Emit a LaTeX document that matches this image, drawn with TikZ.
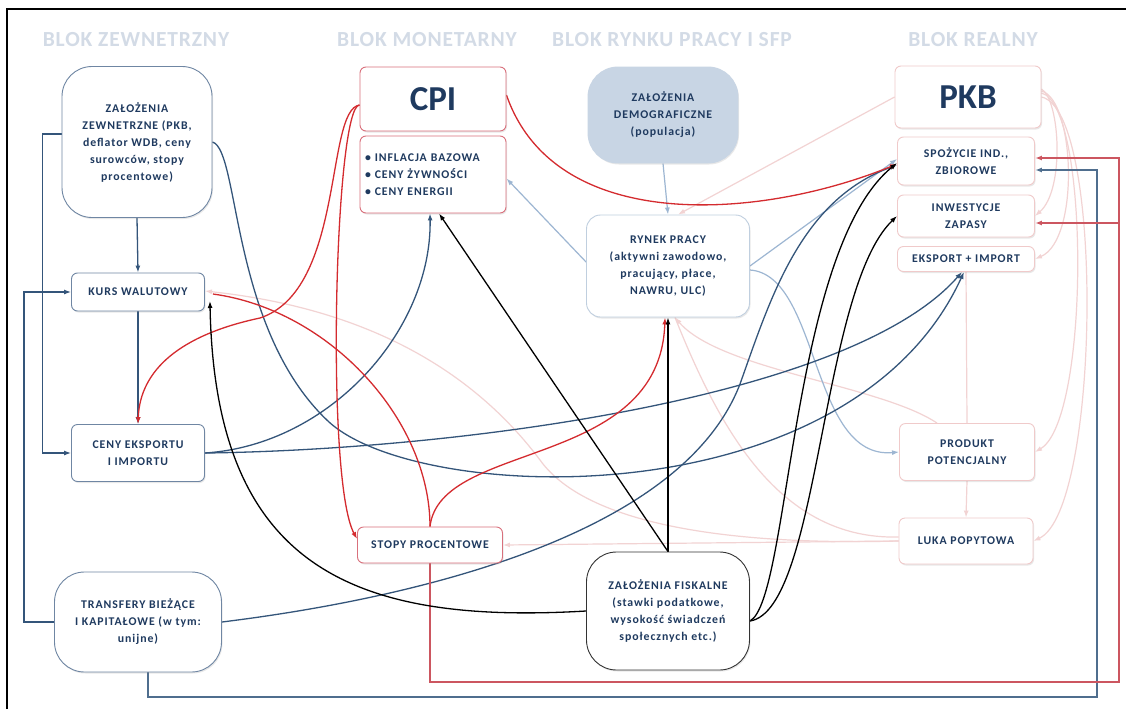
\documentclass[tikz,border=0pt]{standalone}
\usepackage{fontspec}
\setmainfont{Carlito}
\newfontfamily\lblf[LetterSpace=8]{Carlito}
\newfontfamily\hdrf[LetterSpace=4]{Carlito}
\usetikzlibrary{arrows.meta,shadows}
\definecolor{navyC}{HTML}{34557A}
\definecolor{redC}{HTML}{D42B2F}
\definecolor{lblueC}{HTML}{9DB6D2}
\definecolor{pinkC}{HTML}{F2D3D3}
\definecolor{txtC}{HTML}{1F3A5F}
\definecolor{hdrC}{HTML}{D3DBE6}
\definecolor{demoC}{HTML}{C8D5E4}
\definecolor{boxB}{HTML}{6F86A3}
\definecolor{boxR}{HTML}{D9707C}
\definecolor{boxP}{HTML}{F0CACA}
\definecolor{boxL}{HTML}{C0CFDF}
\definecolor{routeR}{HTML}{CC5660}
\definecolor{routeB}{HTML}{4F6E8E}
\pgfdeclarelayer{bg}
\pgfsetlayers{bg,main}
\tikzset{
  box/.style={draw, line width=0.9pt, fill=white, align=center, text=txtC,
    font=\lblf\bfseries\fontsize{11.8}{17}\selectfont, inner sep=2pt,
    drop shadow={opacity=0.18, shadow xshift=1pt, shadow yshift=-1.5pt}},
  bluebox/.style={box, draw=boxB, rounded corners=6pt},
  bigblue/.style={box, draw=boxB, rounded corners=30pt},
  redbox/.style={box, draw=boxR, rounded corners=6pt},
  pinkbox/.style={box, draw=boxP, rounded corners=6pt},
  bigtxt/.style={font=\bfseries\fontsize{35}{38}\selectfont},
  hdr/.style={font=\hdrf\bfseries\fontsize{21.5}{25}\selectfont, text=hdrC},
  arr/.style={-{Latex[length=7pt,width=5pt]}},
  navyl/.style={draw=navyC, line width=1.3pt},
  redl/.style={draw=redC, line width=1.3pt},
  blkl/.style={draw=black, line width=1.3pt},
  lbluel/.style={draw=lblueC, line width=1.2pt},
  pinkl/.style={draw=pinkC, line width=1.2pt},
  routered/.style={draw=routeR, line width=1.4pt},
  routeblue/.style={draw=routeB, line width=1.4pt}
}
\begin{document}
\begin{tikzpicture}[x=1pt,y=-1pt]
\useasboundingbox (0,0) rectangle (1126,709);
% headers
\node[hdr] (h1) at (136,40) {BLOK ZEWNETRZNY};
\node[hdr] (h2) at (427,40) {BLOK MONETARNY};
\node[hdr] (h3) at (672,40) {BLOK RYNKU PRACY I SFP};
\node[hdr] (h4) at (973,40) {BLOK REALNY};
% external block
\node[bigblue, minimum width=150pt, minimum height=151pt] (zz) at (137,142)
  {ZAŁOŻENIA\\ZEWNETRZNE (PKB,\\deflator WDB, ceny\\surowców, stopy\\procentowe)};
\node[bluebox, minimum width=133pt, minimum height=38pt] (kurs) at (138,292) {KURS WALUTOWY};
\node[bluebox, minimum width=133pt, minimum height=57pt] (ceny) at (138,453) {CENY EKSPORTU\\I IMPORTU};
\node[bigblue, minimum width=167pt, minimum height=100pt] (tr) at (138,622)
  {TRANSFERY BIEŻĄCE\\I KAPITAŁOWE (w tym:\\unijne)};
% monetary block
\node[redbox, bigtxt, minimum width=146pt, minimum height=64pt] (cpi) at (433,99) {CPI};
\node[redbox, minimum width=146pt, minimum height=77pt, text width=136pt, align=left] (bul) at (433,174.5)
  {• INFLACJA BAZOWA\\• CENY ŻYWNOŚCI\\• CENY ENERGII};
\node[redbox, minimum width=145pt, minimum height=36pt] (stopy) at (430,545) {STOPY PROCENTOWE};
% labour block
\node[box, draw=demoC, fill=demoC, rounded corners=30pt, minimum width=150pt, minimum height=96pt] (demo) at (663,115)
  {ZAŁOŻENIA\\DEMOGRAFICZNE\\(populacja)};
\node[box, draw=boxL, rounded corners=14pt, minimum width=163pt, minimum height=102pt] (ryn) at (668,266)
  {RYNEK PRACY\\(aktywni zawodowo,\\pracujący, płace,\\NAWRU, ULC)};
\node[box, draw=black!80, rounded corners=30pt, minimum width=163pt, minimum height=118pt] (fisk) at (668,611)
  {ZAŁOŻENIA FISKALNE\\(stawki podatkowe,\\wysokość świadczeń\\społecznych etc.)};
% real block
\node[pinkbox, bigtxt, minimum width=146pt, minimum height=62pt] (pkb) at (968,97) {PKB};
\node[pinkbox, minimum width=137pt, minimum height=48pt] (spoz) at (966,161) {SPOŻYCIE IND.,\\ZBIOROWE};
\node[pinkbox, minimum width=137pt, minimum height=42pt] (inw) at (966,216) {INWESTYCJE\\ZAPASY};
\node[pinkbox, minimum width=137pt, minimum height=25pt] (eksp) at (966,259) {EKSPORT + IMPORT};
\node[pinkbox, minimum width=135pt, minimum height=57pt] (prod) at (967,452) {PRODUKT\\POTENCJALNY};
\node[pinkbox, minimum width=134pt, minimum height=46pt] (luka) at (966,541) {LUKA POPYTOWA};
\coordinate (bl) at (1097,697);
\coordinate (br) at (1119,682);
\begin{pgfonlayer}{bg}
\fill[white] (0,0) rectangle (1126,709);
\draw[black, line width=1.2pt] (7,709) -- (7,9) -- (1126,9);
% pale pink
\draw[pinkl,arr] (pkb.west) -- ([xshift=10pt]ryn.north);
\draw[pinkl,arr] (luka.west) -- (stopy.east);
\draw[pinkl,arr] (luka.west) .. controls (750,545) and (590,530) .. (540,460) .. controls (480,380) and (380,310) .. ([yshift=1pt]kurs.east);
\draw[pinkl,arr] ([xshift=-30pt]prod.north) .. controls (880,385) and (720,370) .. ([xshift=7pt]ryn.south);
\draw[pinkl] ([yshift=4pt]luka.west) .. controls (780,540) and (720,430) .. ([xshift=7pt]ryn.south);
\draw[pinkl] (eksp.south) -- (prod.north);
\draw[pinkl,arr] (prod.south) -- (luka.north);
\draw[pinkl,arr] ([yshift=8pt]pkb.east) .. controls (1060,100) and (1065,190) .. (inw.east);
\draw[pinkl,arr] ([yshift=6pt]pkb.east) .. controls (1075,100) and (1080,240) .. (eksp.east);
\draw[pinkl,arr] ([yshift=4pt]pkb.east) .. controls (1090,105) and (1090,420) .. (prod.east);
\draw[pinkl,arr] (pkb.east) .. controls (1105,110) and (1100,510) .. (luka.east);
% light blue
\draw[lbluel,arr] (demo.south) -- (ryn.north);
\draw[lbluel,arr] ([yshift=4pt]ryn.west) -- ([yshift=-4pt]bul.east);
\draw[lbluel,arr] (ryn.east) -- ([yshift=2pt]spoz.west);
\draw[lbluel,arr] ([yshift=-4pt]ryn.east) .. controls (820,275) and (810,460) .. (prod.west);
% navy
\draw[navyl,arr] (zz.south) -- (kurs.north);
\draw[navyl,arr] (kurs.south) -- (ceny.north);
\draw[navyl,arr] ([yshift=8pt]zz.west) -- ++(-19,0) |- (ceny.west);
\draw[navyl,arr] (tr.west) -- ++(-30,0) |- (kurs.west);
\draw[routeblue,arr] ([xshift=10pt]tr.south) |- (bl) |- ([yshift=-9pt]spoz.east);
\draw[navyl,arr] (ceny.east) .. controls (330,445) and (432,330) .. ([xshift=-3pt]bul.south);
\draw[navyl,arr] (ceny.east) .. controls (450,450) and (850,400) .. ([xshift=-4pt]eksp.south);
\draw[navyl,arr] (zz.east) .. controls (240,150) and (230,330) .. (329,422) .. controls (420,505) and (850,520) .. ([xshift=-2pt]eksp.south);
\draw[navyl,arr] (tr.east) .. controls (400,600) and (680,540) .. (740,384) .. controls (770,300) and (800,200) .. ([yshift=-4pt]spoz.west);
% red
\draw[routered,arr] (stopy.south) |- (br) |- ([yshift=3pt]spoz.east);
\draw[routered,arr] (br) |- ([yshift=-7pt]inw.east);
\draw[redl,arr] ([yshift=4pt]cpi.east) .. controls (555,235) and (760,220) .. ([yshift=-3pt]spoz.west);
\draw[redl,arr] ([yshift=-6pt]cpi.west) .. controls (335,105) and (325,480) .. ([yshift=6pt]stopy.west);
\draw[redl,arr] ([yshift=-6pt]cpi.west) .. controls (325,110) and (345,290) .. (260,318) .. controls (180,335) and (140,370) .. (ceny.north);
\draw[redl] (stopy.north) .. controls (430,420) and (330,310) .. ([xshift=8pt,yshift=-2pt]kurs.east);
\draw[redl,arr] (stopy.north) .. controls (440,440) and (660,470) .. ([xshift=-3pt]ryn.south);
% black
\draw[blkl,arr] (fisk.north) -- (ryn.south);
\draw[blkl,arr] (fisk.north) -- ([xshift=6pt]bul.south);
\draw[blkl,arr] (fisk.west) .. controls (350,625) and (215,565) .. ([xshift=5pt,yshift=-9pt]kurs.east);
\draw[blkl,arr] ([yshift=-10pt]fisk.east) .. controls (790,600) and (790,250) .. ([yshift=-2pt]spoz.west);
\draw[blkl,arr] ([yshift=-10pt]fisk.east) .. controls (820,610) and (820,290) .. (inw.west);
\end{pgfonlayer}
\end{tikzpicture}
\end{document}
